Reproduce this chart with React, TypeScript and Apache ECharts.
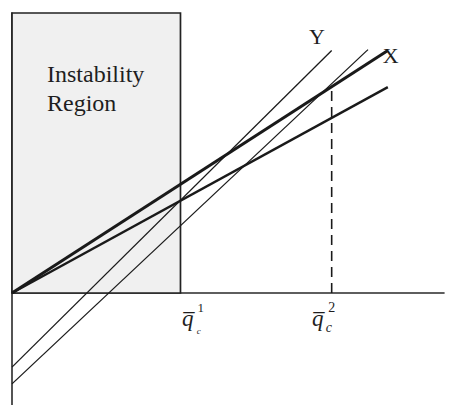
import React, { useEffect, useRef } from "react";
import * as echarts from "echarts";

// Axis extents (model units)
const X_RANGE = [0, 100];
const Y_RANGE = [-26, 65];

// Critical q values on the horizontal axis
const criticalQ = [39, 74];
const criticalQSup = ["1", "2"];

// Shaded instability region: [q from, y from], [q to, y to]
const regionBox = [
  [0, 0],
  [39, 65],
];

// Lines
const lineXThick = [
  [0, 0],
  [87, 56.3],
];
const lineLowerThick = [
  [0, 0],
  [87, 47.8],
];
const lineYThin = [
  [0, -17.2],
  [74, 56.3],
];
const lineOtherThin = [
  [0, -21.1],
  [82.4, 56.5],
];
const dashedDrop = [
  [74, 0],
  [74, 47.9],
];

const regionLabel = ["Instability", "Region"];
const lineLabels = ["X", "Y"];

const SERIF = "Liberation Serif";
const INK = "#1a1a1a";
const TXT = "#1e1e1e";

export default function App() {
  const ref = useRef<HTMLDivElement>(null);

  useEffect(() => {
    if (!ref.current) return;
    const chart = echarts.init(ref.current, undefined, { renderer: "svg" });

    const lineSeries = (data: number[][], width: number, dash?: number[]) => ({
      type: "line",
      data,
      showSymbol: false,
      symbol: "none",
      silent: true,
      z: 3,
      lineStyle: { color: INK, width, type: dash || "solid" },
    });

    chart.setOption({
      animation: false,
      backgroundColor: "#ffffff",
      grid: { left: 12, top: 13, width: 432, height: 393, containLabel: false },
      xAxis: {
        type: "value",
        min: X_RANGE[0],
        max: X_RANGE[1],
        axisLine: { show: true, onZero: true, lineStyle: { color: "#2a2a2a", width: 1.6 } },
        axisTick: { show: false },
        axisLabel: { show: false },
        splitLine: { show: false },
      },
      yAxis: {
        type: "value",
        min: Y_RANGE[0],
        max: Y_RANGE[1],
        axisLine: { show: true, lineStyle: { color: "#2a2a2a", width: 1.6 } },
        axisTick: { show: false },
        axisLabel: { show: false },
        splitLine: { show: false },
      },
      series: [
        {
          type: "line",
          data: regionBox,
          showSymbol: false,
          symbol: "none",
          silent: true,
          lineStyle: { opacity: 0 },
          z: 1,
          markArea: {
            silent: true,
            itemStyle: { color: "#f0f0f0", borderColor: "#222", borderWidth: 1.7 },
            data: [[{ coord: regionBox[0] }, { coord: regionBox[1] }]],
          },
        },
        lineSeries(lineXThick, 3),
        lineSeries(lineLowerThick, 2.4),
        lineSeries(lineYThin, 1.3),
        lineSeries(lineOtherThin, 1.3),
        lineSeries(dashedDrop, 1.6, [10, 6]),
      ],
    });

    const px = (p: number[]) => chart.convertToPixel({ gridIndex: 0 }, p) as number[];

    const txt = (text: string, x: number, y: number, size: number, italic = false) => ({
      type: "text",
      z: 100,
      x,
      y,
      silent: true,
      style: {
        text,
        fontFamily: SERIF,
        fontSize: size,
        fontStyle: italic ? "italic" : "normal",
        fill: TXT,
        align: "left",
        verticalAlign: "top",
      },
    });

    const boxTL = px([regionBox[0][0], regionBox[1][1]]);
    const xEnd = px(lineXThick[1]);
    const yEnd = px(lineYThin[1]);

    const graphics: any[] = [
      txt(regionLabel[0], boxTL[0] + 35, boxTL[1] + 48.6, 24),
      txt(regionLabel[1], boxTL[0] + 35, boxTL[1] + 77.9, 24),
      txt(lineLabels[0], xEnd[0] - 5, xEnd[1] - 6, 22),
      txt(lineLabels[1], yEnd[0] - 22.7, yEnd[1] - 25, 22),
    ];

    const qOffsets = [
      { q: 1.5, sup: 17, supSize: 13, sub: 16.2, subSize: 9, subDy: 33 },
      { q: -19.7, sup: -3.4, supSize: 14, sub: -6, subSize: 14, subDy: 27.6 },
    ];
    criticalQ.forEach((q, i) => {
      const p = px([q, 0]);
      const o = qOffsets[i];
      graphics.push(
        txt("q\u0305", p[0] + o.q, p[1] + 14, 23, true),
        txt(criticalQSup[i], p[0] + o.sup, p[1] + 14 - o.supSize * 0.5, o.supSize),
        txt("c", p[0] + o.sub, p[1] + o.subDy, o.subSize, true)
      );
    });

    chart.setOption({ graphic: graphics });

    return () => chart.dispose();
  }, []);

  return (
    <div
      ref={ref}
      style={{ position: "absolute", left: 0, top: 0, width: 461, height: 405, background: "#fff" }}
    />
  );
}
